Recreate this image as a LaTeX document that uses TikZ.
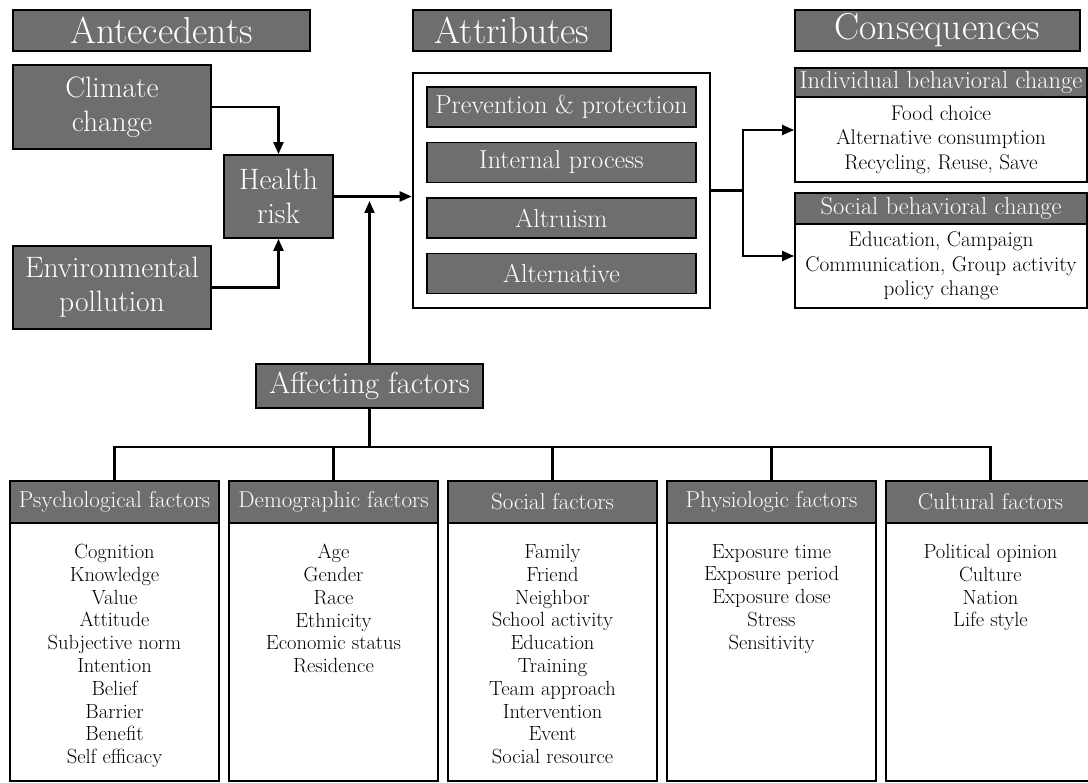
\documentclass[tikz,border=0pt]{standalone}
\usepackage{fontspec}
\usetikzlibrary{arrows.meta}
\definecolor{boxgray}{HTML}{6E6E6E}
\tikzset{
  dark/.style={draw=black, line width=1.8pt, fill=boxgray, text=white, inner sep=0pt, align=center},
  whitebox/.style={draw=black, line width=1.8pt, fill=white, inner sep=0pt, align=center},
  conn/.style={line width=2.2pt},
  arr/.style={conn, -{Triangle[length=12pt,width=10pt]}},
  bigfont/.style={font=\fontsize{37.5}{40}\selectfont},
  midfont/.style={font=\fontsize{29.5}{34}\selectfont},
  afffont/.style={font=\fontsize{30.5}{34}\selectfont},
  attrfont/.style={font=\fontsize{26}{28}\selectfont},
  conshfont/.style={font=\fontsize{24.5}{26}\selectfont},
  consbfont/.style={font=\fontsize{21.2}{24.5}\selectfont},
  colhead/.style={dark, font=\fontsize{23}{25}\selectfont, minimum width=209pt, minimum height=42pt},
  colbody/.style={whitebox, minimum width=209pt, minimum height=258pt},
  listtext/.style={inner sep=0pt, align=center, anchor=north, font=\fontsize{20.5}{22.8}\selectfont},
}
\begin{document}
\begin{tikzpicture}[x=1pt,y=-1pt]
\clip (0,0) rectangle (1088,783);
\fill[white] (0,0) rectangle (1088,783);

% section headers
\node[dark, bigfont, minimum width=297pt, minimum height=41pt] (anteh) at (161.5,30.5) {Antecedents};
\node[dark, bigfont, minimum width=198pt, minimum height=41pt] (attrh) at (512,30.5) {Attributes};
\node[dark, bigfont, minimum width=285pt, minimum height=41pt] (consh) at (937.5,30.5) {Consequences};

% antecedents
\node[dark, midfont, minimum width=198pt, minimum height=84pt] (climate) at (112,107) {Climate\\change};
\node[dark, midfont, minimum width=109pt, minimum height=83pt] (health) at (278.5,196.5) {Health\\risk};
\node[dark, midfont, minimum width=198pt, minimum height=83pt] (env) at (112,287.5) {Environmental\\pollution};

% attributes
\node[whitebox, line width=2.6pt, minimum width=297pt, minimum height=235pt] (attrbox) at (561.5,190.5) {};
\node[dark, attrfont, minimum width=269pt, minimum height=40pt] (prev) at (561.5,107) {Prevention \& protection};
\node[dark, attrfont, minimum width=269pt, minimum height=40pt] (intp) at (561.5,162.5) {Internal process};
\node[dark, attrfont, minimum width=269pt, minimum height=40pt] (altr) at (561.5,218) {Altruism};
\node[dark, attrfont, minimum width=269pt, minimum height=40pt] (alte) at (561.5,273.5) {Alternative};

% consequences
\node[dark, conshfont, minimum width=292pt, minimum height=29pt] (indh) at (941,82.5) {Individual behavioral change};
\node[whitebox, consbfont, minimum width=292pt, minimum height=85pt] (indb) at (941,139.5) {Food choice\\Alternative consumption\\Recycling, Reuse, Save};
\node[dark, conshfont, minimum width=292pt, minimum height=31pt] (soch) at (941,208.5) {Social behavioral change};
\node[whitebox, consbfont, minimum width=292pt, minimum height=84pt] (socb) at (941,266) {Education, Campaign\\Communication, Group activity\\policy change};

% affecting factors
\node[dark, afffont, minimum width=227pt, minimum height=44pt] (aff) at (369.5,386) {Affecting factors};

% factor columns
\node[colhead] (psyh) at (114.5,502) {Psychological factors};
\node[colbody] (psyb) at (114.5,652) {};
\node[listtext] (psyl) at (114.5,544) {Cognition\\Knowledge\\Value\\Attitude\\Subjective norm\\Intention\\Belief\\Barrier\\Benefit\\Self efficacy};

\node[colhead] (demh) at (333.5,502) {Demographic factors};
\node[colbody] (demb) at (333.5,652) {};
\node[listtext] (deml) at (333.5,544) {Age\\Gender\\Race\\Ethnicity\\Economic status\\Residence};

\node[colhead] (soh) at (552.5,502) {Social factors};
\node[colbody] (sob) at (552.5,652) {};
\node[listtext] (sol) at (552.5,544) {Family\\Friend\\Neighbor\\School activity\\Education\\Training\\Team approach\\Intervention\\Event\\Social resource};

\node[colhead] (phyh) at (771.5,502) {Physiologic factors};
\node[colbody] (phyb) at (771.5,652) {};
\node[listtext] (phyl) at (771.5,544) {Exposure time\\Exposure period\\Exposure dose\\Stress\\Sensitivity};

\node[colhead] (culh) at (990.5,502) {Cultural factors};
\node[colbody] (culb) at (990.5,652) {};
\node[listtext] (cull) at (990.5,544) {Political opinion\\Culture\\Nation\\Life style};

% connectors: antecedents
\draw[arr] (climate.east) -| (health.north);
\draw[arr] (env.east) -| (health.south);
\draw[arr] (health.east) -- (health.east -| attrbox.west);
\draw[arr] (aff.north) -- (aff.north |- 0,201);

% attributes to consequences
\coordinate (split) at (743,190.5);
\draw[conn] (attrbox.east) -- (split);
\draw[arr] (split) |- (indh.west |- 0,130);
\draw[arr] (split) |- (soch.west |- 0,256);

% tree to factor columns
\coordinate (bus) at (369.5,447);
\draw[conn] (aff.south) -- (bus);
\draw[conn] (psyh.north) -- (psyh.north |- bus) -- (culh.north |- bus) -- (culh.north);
\draw[conn] (demh.north) -- (demh.north |- bus);
\draw[conn] (soh.north) -- (soh.north |- bus);
\draw[conn] (phyh.north) -- (phyh.north |- bus);
\end{tikzpicture}
\end{document}
